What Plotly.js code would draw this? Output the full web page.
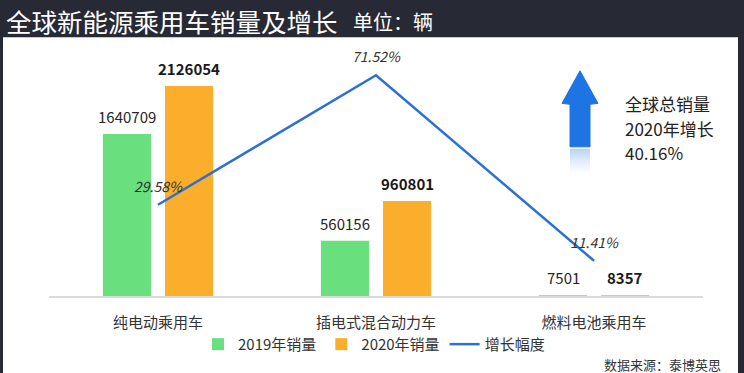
<!DOCTYPE html>
<html>
<head>
<meta charset="utf-8">
<script src="https://cdn.plot.ly/plotly-3.0.1.min.js"></script>
<style>
html,body{margin:0;padding:0;background:#272a35;}
#chart{width:744px;height:373px;}
</style>
</head>
<body>
<div id="chart"></div>
<script>
// ---- data ----
const categories = ["纯电动乘用车", "插电式混合动力车", "燃料电池乘用车"];
const sales2019 = [1640709, 560156, 7501];
const sales2020 = [2126054, 960801, 8357];
const growthPct = [29.58, 71.52, 11.41];
const seriesNames = ["2019年销量", "2020年销量", "增长幅度"];
const titleMain = "全球新能源乘用车销量及增长";
const titleUnit = "单位：辆";
const sideNote = ["全球总销量", "2020年增长", "40.16%"];
const sourceNote = "数据来源：泰博英思";

// ---- layout helpers (pixel -> paper) ----
const W = 744, H = 373, ML = 49, MR = 41, MT = 50, MB = 74;
const PW = W - ML - MR, PH = H - MT - MB;
const px = v => (v - ML) / PW;
const py = v => (H - MB - v) / PH;

const FONT = '"Noto Sans CJK SC", "Noto Sans", sans-serif';
const GREEN = '#69e07d', ORANGE = '#fbae2b', BLUE = '#2c70d4', ARROW = '#1f74e4';

const traces = [
  {type: 'bar', name: seriesNames[0], x: categories, y: sales2019, marker: {color: GREEN}, hoverinfo: 'skip'},
  {type: 'bar', name: seriesNames[1], x: categories, y: sales2020, marker: {color: ORANGE}, hoverinfo: 'skip'},
  {type: 'scatter', mode: 'lines', name: seriesNames[2], x: categories, y: growthPct, yaxis: 'y2',
   line: {color: BLUE, width: 2.5}, hoverinfo: 'skip'}
];

const annotations = [];
categories.forEach((c, i) => {
  annotations.push({x: c, y: sales2019[i], xref: 'x', yref: 'y', xshift: -31, yshift: 5,
    yanchor: 'bottom', showarrow: false, text: String(sales2019[i]),
    font: {family: FONT, size: 15, color: '#262626'}});
  annotations.push({x: c, y: sales2020[i], xref: 'x', yref: 'y', xshift: 31, yshift: 5,
    yanchor: 'bottom', showarrow: false, text: '<b>' + sales2020[i] + '</b>',
    font: {family: FONT, size: 15, color: '#1a1a1a'}});
  annotations.push({x: c, y: growthPct[i], xref: 'x', yref: 'y2', yshift: 19,
    yanchor: 'middle', showarrow: false, text: '<i>' + growthPct[i].toFixed(2) + '%</i>',
    font: {family: FONT, size: 14, color: '#333333'}});
});
// title
annotations.push({xref: 'paper', yref: 'paper', x: px(4), y: py(20), xanchor: 'left', yanchor: 'middle',
  showarrow: false, text: titleMain, font: {family: FONT, size: 25.5, color: '#ffffff'}});
annotations.push({xref: 'paper', yref: 'paper', x: px(351), y: py(21), xanchor: 'left', yanchor: 'middle',
  showarrow: false, text: titleUnit, font: {family: FONT, size: 20, color: '#ffffff'}});
// side note (three lines)
[104, 129, 154].forEach((yy, k) => {
  annotations.push({xref: 'paper', yref: 'paper', x: px(624), y: py(yy), xanchor: 'left', yanchor: 'middle',
    showarrow: false, borderpad: 0, text: sideNote[k], font: {family: FONT, size: 17, color: '#222222'}});
});
// source
annotations.push({xref: 'paper', yref: 'paper', x: px(723), y: py(368), xanchor: 'right', yanchor: 'middle',
  showarrow: false, text: sourceNote, font: {family: FONT, size: 13, color: '#333333'}});

// arrow path
const arrowPts = [[580,71],[598,104],[590,105],[590,148],[570,148],[570,105],[562,104]];
const arrowPath = 'M' + arrowPts.map(p => px(p[0]) + ',' + py(p[1])).join(' L') + ' Z';
const shapes = [
  {type: 'rect', xref: 'paper', yref: 'paper', layer: 'below', x0: px(3), x1: px(738), y0: py(380), y1: py(37),
   fillcolor: '#ffffff', line: {width: 0}},
  {type: 'path', xref: 'paper', yref: 'paper', path: arrowPath, fillcolor: ARROW, line: {color: ARROW, width: 1}}
];
// reflection (soft fade)
const steps = 26;
for (let k = 0; k < steps; k++) {
  shapes.push({type: 'rect', xref: 'paper', yref: 'paper', x0: px(570), x1: px(590),
    y0: py(150 + (k + 1)), y1: py(150 + k),
    fillcolor: ARROW, opacity: 0.32 * Math.pow(1 - k / steps, 1.3), line: {width: 0}});
}

const layout = {
  width: W, height: H,
  margin: {l: ML, r: MR, t: MT, b: MB, pad: 0},
  paper_bgcolor: '#272a35', plot_bgcolor: 'rgba(0,0,0,0)',
  barmode: 'group', bargap: 0.43, bargroupgap: 0.226,
  font: {family: FONT, color: '#333333'},
  xaxis: {type: 'category', range: [-0.5, 2.5], showgrid: false, zeroline: false,
    showline: true, linecolor: '#dadada', linewidth: 1.5, ticks: '', ticklabelstandoff: 12,
    tickfont: {family: FONT, size: 15, color: '#333333'}},
  yaxis: {range: [0, 2490000], visible: false, showgrid: false, zeroline: false},
  yaxis2: {range: [0, 79.7], overlaying: 'y', visible: false, showgrid: false, zeroline: false},
  showlegend: true,
  legend: {orientation: 'h', x: px(374), xanchor: 'center', y: py(348), yanchor: 'middle',
    font: {family: FONT, size: 15, color: '#333333'}, bgcolor: 'rgba(0,0,0,0)', traceorder: 'normal'},
  annotations: annotations,
  shapes: shapes
};

Plotly.newPlot('chart', traces, layout, {staticPlot: true, displayModeBar: false});
</script>
</body>
</html>
